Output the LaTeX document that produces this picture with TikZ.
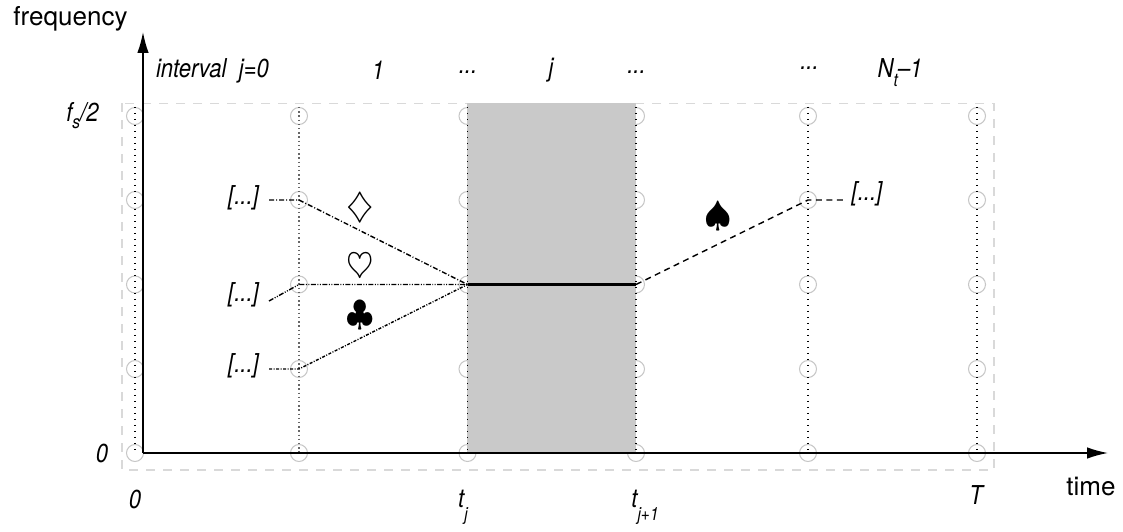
\documentclass[tikz,border=0pt]{standalone}
\usepackage{fontspec}
\setmainfont{TeX Gyre Heros}
\newfontfamily\labfont[FakeStretch=0.85]{TeX Gyre Heros}
\usepackage{amsmath,amssymb}
\usetikzlibrary{arrows.meta}
\newcommand{\lowsub}[2][-0.5em]{\raisebox{#1}{\fontsize{5.2}{6}\selectfont #2}}
\tikzset{
  gridpt/.style={circle,draw=black!22,line width=0.3pt,minimum size=0.17cm,inner sep=0pt},
  griddot/.style={line width=0.35pt,dash pattern=on 0.012cm off 0.048cm},
  griddense/.style={black!60,line width=0.35pt,dash pattern=on 0.015cm off 0.027cm},
  framebox/.style={draw=black!15,dash pattern=on 0.09cm off 0.08cm,line width=0.4pt},
  axisline/.style={-{Latex[length=0.21cm,width=0.115cm]},line width=0.45pt},
  lab/.style={font=\fontsize{7.4}{9}\labfont\itshape,inner sep=0pt},
  plain/.style={font=\fontsize{7.4}{9}\selectfont,inner sep=0pt},
  suit/.style={inner sep=0pt},
  pathdiam/.style={line width=0.4pt,dash pattern=on 0.05cm off 0.02cm on 0.01cm off 0.02cm},
  pathheart/.style={line width=0.4pt,dash pattern=on 0.05cm off 0.015cm on 0.01cm off 0.015cm on 0.01cm off 0.015cm},
  pathclub/.style={line width=0.4pt,dash pattern=on 0.03cm off 0.015cm on 0.01cm off 0.015cm},
  pathspade/.style={line width=0.4pt,dash pattern=on 0.06cm off 0.045cm}
}
\begin{document}
\begin{tikzpicture}
    \useasboundingbox (0,0) rectangle (11.23,5.31);

    % sampling grid
    \foreach \c/\x in {1/1.35,2/2.99,3/4.675,4/6.36,5/8.08,6/9.77}
      \foreach \r/\y in {1/4.15,2/3.31,3/2.465,4/1.62,5/0.78}
        \node[gridpt] (g\c\r) at (\x,\y) {};

    \draw[framebox] (1.22,4.275) rectangle (9.94,0.61);
    \fill[black!21] (4.67,4.275) rectangle (6.36,0.78);

    \foreach \c/\s in {1/griddot,2/griddense,3/griddot,4/griddot,5/griddot,6/griddot}
      \draw[\s] (g\c1.north) -- (g\c5.center);

    % axes
    \coordinate (orig) at (1.43,0.78);
    \coordinate (ftop) at (1.43,4.99);
    \coordinate (tend) at (11.08,0.78);
    \draw[axisline] (orig) -- (ftop);
    \draw[axisline] (orig) -- (tend);

    \node[plain] (flab) at (0.705,5.125) {frequency};
    \node[plain] (tlab) at (10.91,0.45) {time};

    % interval labels
    \node[lab] (ivz) at (2.125,4.60) {interval\ \ j=0};
    \node[lab] (ivo) at (3.78,4.61) {1};
    \node[lab] (iva) at (4.68,4.59) {...};
    \node[lab] (ivj) at (5.51,4.605) {j};
    \node[lab] (ivb) at (6.365,4.59) {...};
    \node[lab] (ivc) at (8.095,4.63) {...};
    \node[lab] (ivn) at (9.00,4.58) {N\lowsub[-0.35em]{t}\textendash1};

    \node[lab] (fhalf) at (0.825,4.155) {f\lowsub[-0.25em]{s}/2};
    \node[lab] (fzero) at (1.02,0.78) {0};
    \node[lab] (tzero) at (1.35,0.315) {0};
    \node[lab] (tj) at (4.63,0.235) {t\lowsub{j}};
    \node[lab] (tjp) at (6.45,0.235) {t\lowsub{j+1}};
    \node[lab] (tT) at (9.76,0.36) {T};

    % paths
    \node[lab] (dl) at (2.435,3.33) {[...]};
    \node[lab] (hl) at (2.435,2.36) {[...]};
    \node[lab] (cl) at (2.435,1.65) {[...]};
    \node[lab] (sr) at (8.67,3.37) {[...]};
    \coordinate (dfree) at (2.69,3.31);
    \coordinate (hfree) at (2.69,2.30);
    \coordinate (cfree) at (2.69,1.62);
    \coordinate (sfree) at (8.43,3.31);

    \draw[pathdiam] (dfree) -- (g22.center) -- (g33.center);
    \draw[pathheart] (hfree) -- (g23.center) -- (g33.center);
    \draw[pathclub] (cfree) -- (g24.center) -- (g33.center);
    \draw[line width=0.9pt] (g33.center) -- (g43.center);
    \draw[pathspade] (g43.center) -- (g52.center) -- (sfree);

    \node[suit] (sdiam) at (3.60,3.23) {$\diamondsuit$};
    \node[suit] (sheart) at (3.60,2.63) {$\heartsuit$};
    \node[suit] (sclub) at (3.60,2.15) {$\clubsuit$};
    \node[suit] (sspade) at (7.18,3.14) {$\spadesuit$};
\end{tikzpicture}
\end{document}
